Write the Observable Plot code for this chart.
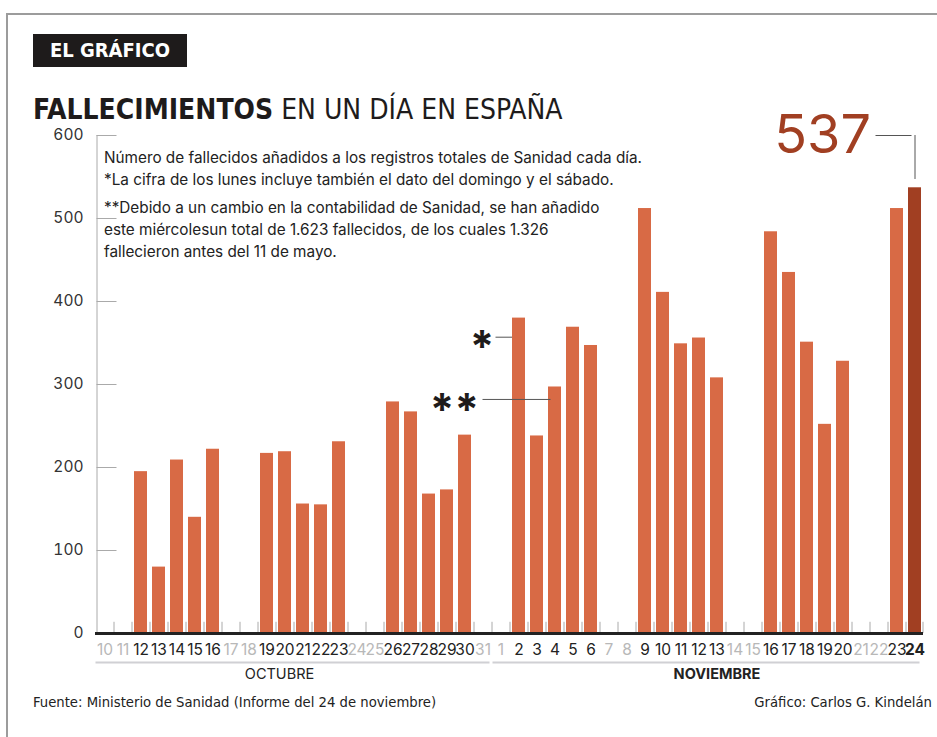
<!DOCTYPE html>
<html><head><meta charset="utf-8">
<script src="https://cdn.jsdelivr.net/npm/d3@7"></script>
<script src="https://cdn.jsdelivr.net/npm/@observablehq/plot@0.6"></script>
<style>
body{margin:0;background:#fff;}
#wrap{position:relative;width:937px;height:737px;overflow:hidden;font-family:Inter,Roboto,"Noto Sans",sans-serif;color:#222;}
.frameTop{position:absolute;left:6px;top:13px;width:931px;border-top:2px solid #9c9c9c;}
.frameLeft{position:absolute;left:6px;top:13px;height:724px;border-left:2px solid #9c9c9c;}
#chart{position:absolute;left:0;top:0;}
.badge{position:absolute;left:33px;top:34px;width:154px;height:33px;background:#1e1b1b;color:#fff;font-family:"Liberation Sans Narrow","DejaVu Sans Condensed",Roboto,sans-serif;font-weight:bold;font-size:20px;line-height:33px;text-align:center;}
.title{position:absolute;left:33px;top:94px;font-family:"Liberation Sans Narrow","DejaVu Sans Condensed",Roboto,sans-serif;font-size:28px;line-height:32px;color:#1e1b1b;white-space:nowrap;}
.title b{font-weight:bold;}
.note{position:absolute;left:104px;top:147px;font-size:15.3px;line-height:22px;color:#222;white-space:nowrap;}
.note .gap{height:6px;}
.foot{position:absolute;top:693px;font-family:"Liberation Sans Narrow","DejaVu Sans Condensed",Roboto,sans-serif;font-size:14.7px;color:#222;white-space:nowrap;}
</style></head>
<body>
<div id="wrap">
  <div id="chart"></div>
  <div class="frameTop"></div>
  <div class="frameLeft"></div>
  <div class="badge">EL GRÁFICO</div>
  <div class="title"><b>FALLECIMIENTOS</b> EN UN DÍA EN ESPAÑA</div>
  <div class="note">
    <div>Número de fallecidos añadidos a los registros totales de Sanidad cada día.</div>
    <div>*La cifra de los lunes incluye también el dato del domingo y el sábado.</div>
    <div class="gap"></div>
    <div>**Debido a un cambio en la contabilidad de Sanidad, se han añadido</div>
    <div>este miércolesun total de 1.623 fallecidos, de los cuales 1.326</div>
    <div>fallecieron antes del 11 de mayo.</div>
  </div>
  <div class="foot" style="left:33px">Fuente: Ministerio de Sanidad (Informe del 24 de noviembre)</div>
  <div class="foot" style="right:5px">Gráfico: Carlos G. Kindelán</div>
</div>
<script>
// ---- data ----
const octDays = [10,11,12,13,14,15,16,17,18,19,20,21,22,23,24,25,26,27,28,29,30,31];
const octValues = [null,null,195,80,209,140,222,null,null,217,219,156,155,231,null,null,279,267,168,173,239,null];
const novDays = [1,2,3,4,5,6,7,8,9,10,11,12,13,14,15,16,17,18,19,20,21,22,23,24];
const novValues = [null,380,238,297,369,347,null,null,512,411,349,356,308,null,null,484,435,351,252,328,null,null,512,537];
const weekendDays = ["oct-10","oct-11","oct-17","oct-18","oct-24","oct-25","oct-31","nov-1","nov-7","nov-8","nov-14","nov-15","nov-21","nov-22"];
const months = ["OCTUBRE","NOVIEMBRE"];
const yTicks = [0,100,200,300,400,500,600];

const orange = "#d86a45", dark = "#a13f22";

const rows = [
  ...octDays.map((d,i) => ({key:"oct-"+d, label:String(d), month:0, value:octValues[i]})),
  ...novDays.map((d,i) => ({key:"nov-"+d, label:String(d), month:1, value:novValues[i]}))
];
const keys = rows.map(d => d.key);
const lastKey = keys[keys.length-1];
const lastRow = rows[rows.length-1];
const isWeekend = d => weekendDays.includes(d.key);
const bars = rows.filter(d => d.value != null);

// annotation anchors (in data units)
const star1 = {key:"oct-31", level:357};
const star2 = {key:"oct-31", to:"nov-4", level:282};

const plot = Plot.plot({
  width: 937, height: 737,
  marginLeft: 95, marginRight: 14, marginTop: 135, marginBottom: 104,
  x: {type:"band", domain: keys, paddingInner: 0.28, paddingOuter: 0.14, axis: null},
  y: {domain:[0,600], axis: null},
  style: {fontFamily: "Inter, Roboto, 'Noto Sans', sans-serif", background: "transparent", overflow: "visible"},
  marks: [
    // y axis line
    Plot.ruleX([keys[0]], {x: d => d, y1: 0, y2: 600, dx: -8, stroke: "#aaa", strokeWidth: 1}),
    // y tick stubs
    Plot.ruleY(yTicks.filter(t => t > 0), {y: d => d, x1: () => keys[0], x2: () => keys[0], insetLeft: -1.5, insetRight: -5.5, stroke: "#aaa"}),
    Plot.axisY({ticks: yTicks, tickSize: 0, tickPadding: 12, fontSize: 15.5, fill: "#333", label: null}),
    // day boundary ticks
    Plot.ruleX(keys.slice(1), {x: d => d, y1: 0, y2: 13.5, dx: -9, stroke: "#aaa"}),
    Plot.ruleX([lastKey], {x: d => d, y1: 0, y2: 13.5, dx: 8, stroke: "#aaa"}),
    // bars
    Plot.barY(bars.filter(d => d.key !== lastKey), {x: "key", y: "value", fill: orange}),
    Plot.barY(bars.filter(d => d.key === lastKey), {x: "key", y: "value", fill: dark}),
    // baseline
    Plot.ruleY([0], {stroke: "#222", strokeWidth: 3}),
    // day labels
    Plot.text(rows.filter(d => !isWeekend(d) && d.key !== lastKey), {x: "key", y: () => 0, text: "label", dy: 17, fontSize: 15.5, fill: "#222", ariaLabel: "daylabels"}),
    Plot.text(rows.filter(d => isWeekend(d)), {x: "key", y: () => 0, text: "label", dy: 17, fontSize: 15.5, fill: "#b8b8b8", ariaLabel: "daylabels"}),
    Plot.text([lastRow], {x: "key", y: () => 0, text: "label", dy: 17, fontSize: 15.5, fontWeight: "bold", fill: "#222", ariaLabel: "daylabels"}),
    // month separators
    Plot.ruleY([0], {x1: () => "oct-10", x2: () => "oct-31", dy: 29, insetLeft: -2.5, insetRight: -0.5, stroke: "#d0d0d4", strokeWidth: 2}),
    Plot.ruleY([0], {x1: () => "nov-1", x2: () => lastKey, dy: 29, insetLeft: -1.5, insetRight: 1.5, stroke: "#d0d0d4", strokeWidth: 2}),
    Plot.text([months[0]], {x: () => "oct-20", y: () => 0, text: d => d, dx: -5.5, dy: 41, fontSize: 14.5, fill: "#222"}),
    Plot.text([months[1]], {x: () => "nov-13", y: () => 0, text: d => d, dy: 41, fontSize: 14.5, fontWeight: "bold", fill: "#222"}),
    // annotations * and **
    Plot.ruleY([star1], {y: "level", x1: () => "nov-1", x2: () => "nov-1", insetLeft: 1.5, insetRight: -5, stroke: "#555"}),
    Plot.text([star1], {x: "key", y: "level", text: () => "*", dx: -1, dy: 11, fontSize: 44, fontWeight: "bold", fill: "#1e1b1b"}),
    Plot.ruleY([star2], {y: "level", x1: "key", x2: "to", insetLeft: 6.5, insetRight: 10.5, stroke: "#555"}),
    Plot.text([star2], {x: "key", y: "level", text: () => "**", dx: -4, dy: 11, fontSize: 44, fontWeight: "bold", textAnchor: "end", fill: "#1e1b1b"}),
    // highlight label 537
    Plot.ruleY([600], {y: d => d, x1: () => "nov-22", x2: () => lastKey, insetLeft: 3.5, insetRight: 9.5, stroke: "#555"}),
    Plot.ruleX([lastRow], {x: "key", y1: () => 600, y2: d => d.value + 10, stroke: "#555"}),
    Plot.text([lastRow], {x: () => "nov-22", y: () => 600, text: d => String(d.value), dx: -8, textAnchor: "end", fontSize: 54, fill: dark})
  ]
});
d3.select(plot).selectAll('g[aria-label="daylabels"] text').style("letter-spacing", "-0.6px");
document.getElementById("chart").appendChild(plot);
</script>
</body></html>
